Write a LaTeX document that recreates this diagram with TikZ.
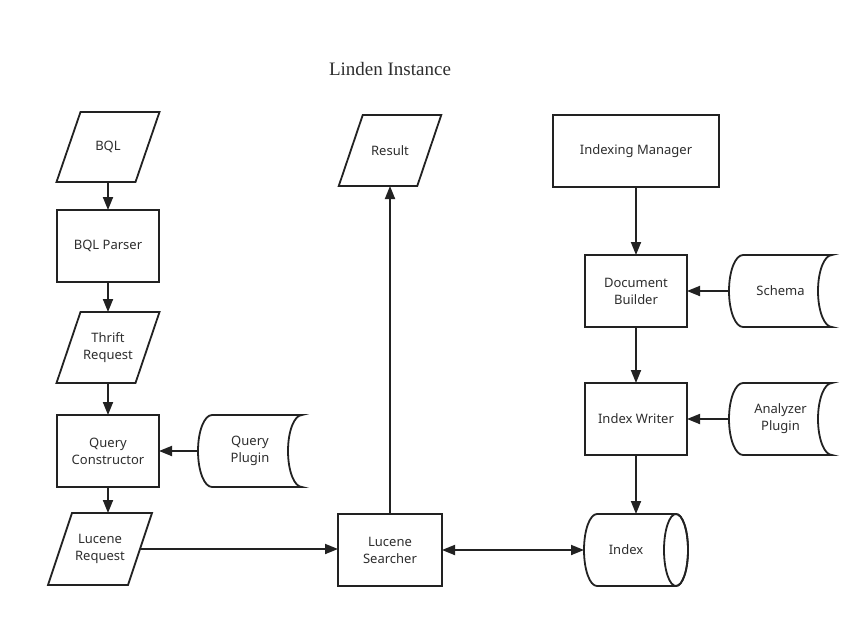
\documentclass[tikz,border=0pt]{standalone}
\usepackage{fontspec}
\setmainfont{Noto Sans}
\newfontfamily\titlefont{Liberation Serif}
\usetikzlibrary{arrows.meta,calc}
\definecolor{lc}{HTML}{222222}
\definecolor{tc}{HTML}{2E2E2E}
\tikzset{
  base/.style={inner sep=0pt, outer sep=0pt, text=tc, font=\fontsize{13}{17}\selectfont, align=center, rectangle},
  box/.style={base, draw=lc, line width=1.8pt},
  ghost/.style={base},
  conn/.style={draw=lc, line width=1.8pt, -{Triangle[length=13pt,width=10pt]}},
  dconn/.style={draw=lc, line width=1.8pt, {Triangle[length=13pt,width=10pt]}-{Triangle[length=13pt,width=10pt]}},
  shp/.style={draw=lc, line width=1.8pt, line join=miter},
}
\newcommand\parashape[1]{\draw[shp] ([xshift=12pt]#1.north west) -- ([xshift=12pt]#1.north east) -- ([xshift=-12pt]#1.south east) -- ([xshift=-12pt]#1.south west) -- cycle;}
\newcommand\drumshape[1]{\draw[shp] ([xshift=14pt]#1.north west) -- (#1.north east) arc[start angle=90, end angle=270, x radius=14pt, y radius=36pt] -- ([xshift=14pt]#1.south west) arc[start angle=270, end angle=90, x radius=14pt, y radius=36pt] -- cycle;}
\begin{document}
\begin{tikzpicture}[x=1pt,y=-1pt]
\useasboundingbox (0,0) rectangle (865,619);
\fill[white] (0,0) rectangle (865,619);

\node[base, font=\titlefont\fontsize{19}{22}\selectfont] (title) at (390,69) {Linden Instance};

% left column
\node[ghost, minimum width=79pt, minimum height=70pt] (bql) at (108,147) {BQL};
\parashape{bql}
\node[box, minimum width=102pt, minimum height=72pt] (bqlp) at (108,246) {BQL Parser};
\node[ghost, minimum width=79pt, minimum height=71pt] (thr) at (108,347.5) {Thrift\\Request};
\parashape{thr}
\node[box, minimum width=102pt, minimum height=72pt] (qc) at (108,451) {Query\\Constructor};
\node[ghost, minimum width=80pt, minimum height=72pt] (lreq) at (100,549) {Lucene\\Request};
\parashape{lreq}
\node[ghost, minimum width=104pt, minimum height=72pt] (qp) at (250,451) {Query\\Plugin};
\drumshape{qp}

% middle column
\node[ghost, minimum width=78.5pt, minimum height=71pt] (res) at (390,150.5) {Result};
\parashape{res}
\node[box, minimum width=104pt, minimum height=72pt] (ls) at (390,550) {Lucene\\Searcher};

% right column
\node[box, minimum width=166pt, minimum height=72pt] (im) at (636,151) {Indexing Manager};
\node[box, minimum width=102pt, minimum height=72pt] (db) at (636,291) {Document\\Builder};
\node[box, minimum width=102pt, minimum height=72pt] (iw) at (636,419) {Index Writer};
\node[ghost, minimum width=104pt, minimum height=72pt] (idx) at (636,550) {Index\hspace*{20pt}};
\draw[shp] ([xshift=13pt]idx.north west) -- ([xshift=-12pt]idx.north east)
  arc[start angle=90, end angle=-90, x radius=12pt, y radius=36pt]
  -- ([xshift=13pt]idx.south west)
  arc[start angle=270, end angle=90, x radius=13pt, y radius=36pt] -- cycle;
\draw[shp] ([xshift=-12pt]idx.east) ellipse[x radius=12pt, y radius=36pt];
\node[ghost, minimum width=103pt, minimum height=72pt] (sch) at (780.5,291) {Schema};
\drumshape{sch}
\node[ghost, minimum width=103pt, minimum height=72pt] (an) at (780.5,419) {Analyzer\\Plugin};
\drumshape{an}

% connectors
\draw[conn] (bql.south) -- (bqlp.north);
\draw[conn] (bqlp.south) -- (thr.north);
\draw[conn] (thr.south) -- (qc.north);
\draw[conn] (qc.south) -- (qc.south |- lreq.north);
\draw[conn] (qp.west) -- (qc.east);
\draw[conn] (lreq.east) -- (lreq.east -| ls.west);
\draw[conn] (ls.north) -- (ls.north |- res.south);
\draw[dconn] (ls.east) -- (ls.east -| idx.west);
\draw[conn] (im.south) -- (db.north);
\draw[conn] (sch.west) -- (db.east);
\draw[conn] (db.south) -- (iw.north);
\draw[conn] (an.west) -- (iw.east);
\draw[conn] (iw.south) -- (idx.north);
\end{tikzpicture}
\end{document}
